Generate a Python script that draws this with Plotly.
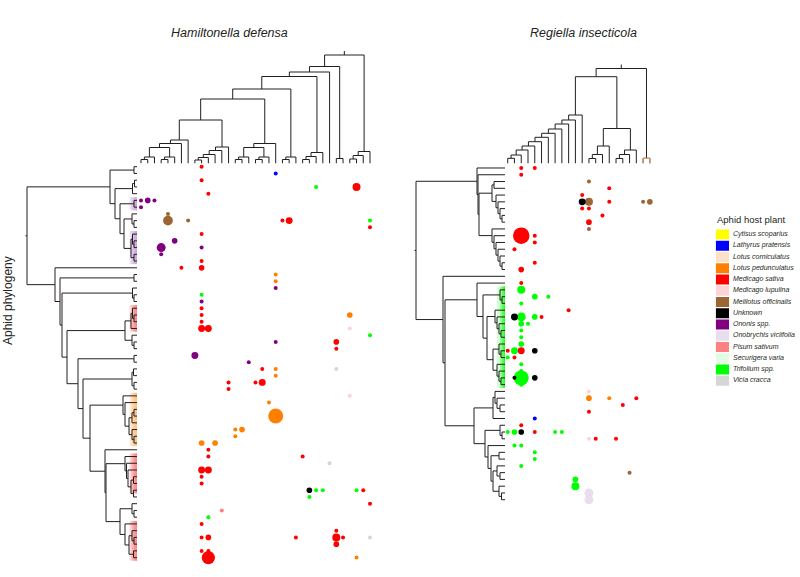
import math
import plotly.graph_objects as go

W, H = 800, 577
FONT = "Liberation Sans, Arial, sans-serif"
LINE = "#231f20"

# ---------------- legend / host plants ----------------
hosts = ["Cytisus scoparius", "Lathyrus pratensis", "Lotus corniculatus", "Lotus pedunculatus",
         "Medicago sativa", "Medicago lupulina", "Melilotus officinalis", "Unknown",
         "Ononis spp.", "Onobrychis viciifolia", "Pisum sativum", "Securigera varia",
         "Trifolium spp.", "Vicia cracca"]
host_codes = ["CS", "LP", "LC", "LPD", "MS", "ML", "MO", "UN", "ON", "OV", "PS", "SV", "TR", "VC"]
host_colors = ["#ffff00", "#0000ff", "#fde0c8", "#ff8000", "#ff0000", "#fbd4d8", "#9b6535", "#000000",
               "#800080", "#e8def0", "#ff8080", "#e2fbe2", "#00ff00", "#d6d6d6"]

# ---------------- Hamiltonella defensa matrix (row = aphid, col = symbiont) ----------------
ham_row = [0, 1, 2, 3, 3, 4, 5, 5, 5, 6, 7, 8, 8, 8, 8, 8, 9, 10, 11, 12, 12, 13, 14, 15, 15,
           16, 17, 18, 19, 20, 21, 22, 22, 23, 24, 24, 24, 25, 26, 26, 27, 28, 29, 30, 30, 30,
           31, 32, 32, 32, 33, 34, 35, 37, 39, 39, 40, 41, 41, 42, 43, 43, 44, 45, 45, 46, 47,
           48, 48, 48, 48, 48, 49, 50, 51, 52, 53, 54, 55, 55, 55, 55, 55, 55, 56, 57, 57, 58, 58]
ham_col = [9, 20, 9, 26, 32, 10, 0, 1, 2, 0, 4, 4, 7, 21, 22, 34, 34, 9, 5, 3, 9, 3, 9, 6, 9,
           20, 20, 20, 9, 9, 9, 9, 31, 9, 9, 10, 31, 34, 20, 29, 29, 8, 16, 18, 20, 29,
           20, 13, 17, 18, 13, 31, 19, 20, 14, 15, 14, 9, 11, 10, 10, 24, 28, 9, 10, 9, 9,
           25, 26, 27, 32, 33, 25, 34, 12, 10, 9, 29, 9, 10, 23, 29, 30, 34, 29, 9, 10, 10, 32]
ham_host = ["MS", "LP", "MS", "TR", "MS", "MS", "ON", "ON", "ON", "ON", "MO", "MO", "MO", "MS", "MS", "TR",
            "MS", "MS", "ON", "ON", "ON", "ON", "MS", "MS", "MS",
            "LPD", "LPD", "ON", "TR", "ON", "MS", "MS", "LPD", "MS", "MS", "MS", "ML", "TR", "ON", "MS",
            "MS", "ON", "ON", "MS", "LPD", "VC",
            "LPD", "MS", "MS", "MS", "MS", "ML", "LPD", "LPD", "LPD", "LPD", "LPD", "LPD", "LPD", "MS",
            "MS", "MS", "VC", "MS", "MS", "MS", "MS",
            "UN", "TR", "TR", "TR", "MS", "TR", "MS", "PS", "TR", "MS", "MS", "MS", "MS", "MS", "MS",
            "MS", "VC", "MS", "MS", "MS", "MS", "LPD"]
ham_n = [1, 1, 1, 1, 4, 1, 1, 2, 1, 1, 1, 6, 1, 1, 3, 1, 1, 1, 2, 5, 1, 1, 1, 1, 2,
         1, 1, 1, 1, 1, 1, 1, 2, 1, 3, 3, 1, 1, 1, 2, 1, 3, 1, 1, 1, 1,
         1, 1, 1, 3, 1, 1, 1, 14, 1, 2, 1, 2, 2, 1, 1, 1, 1, 3, 3, 1, 1,
         2, 1, 1, 1, 1, 1, 1, 1, 1, 1, 1, 1, 2, 1, 4, 1, 1, 2, 1, 1, 11, 1]

# ---------------- Regiella insecticola matrix ----------------
reg_row = [0, 0, 1, 2, 3, 4, 5, 5, 5, 5, 5, 6, 6, 7, 8, 9, 10, 10, 11, 12, 14, 15, 17, 18, 19, 19,
           20, 21, 22, 22, 22, 22, 23, 23, 24, 25, 26, 27, 27, 27, 27, 28, 28, 29, 30, 31, 31, 31,
           32, 33, 34, 34, 34, 35, 36, 37, 38, 39, 39, 39, 39, 39, 39, 40, 40, 40, 41, 41, 42, 43,
           44, 45, 46, 47, 48, 49]
reg_col = [2, 4, 2, 12, 15, 11, 11, 12, 15, 20, 21, 11, 12, 14, 12, 12, 2, 4, 4, 1, 4, 2, 2, 2, 4, 6,
           2, 9, 1, 2, 4, 5, 2, 3, 2, 2, 2, 0, 1, 2, 4, 0, 1, 2, 2, 1, 2, 4,
           2, 12, 12, 15, 19, 17, 12, 4, 2, 0, 1, 2, 4, 7, 8, 12, 13, 16, 1, 2, 4, 4,
           2, 18, 10, 10, 12, 12]
reg_host = ["MS", "MS", "MS", "MO", "MS", "MS", "UN", "MO", "MS", "MO", "MO", "MS", "MS", "MS", "MS", "MO",
            "MS", "MS", "MS", "MS", "MS", "MS", "MS", "TR", "TR", "TR",
            "TR", "MS", "UN", "TR", "TR", "MS", "TR", "TR", "TR", "TR", "TR", "MS", "TR", "MS", "UN",
            "TR", "MS", "TR", "TR", "UN", "TR", "UN",
            "TR", "ML", "LPD", "LPD", "MS", "MS", "MS", "LP", "MS", "TR", "TR", "UN", "MS", "TR", "TR",
            "ML", "MS", "MS", "TR", "TR", "TR", "TR",
            "TR", "MO", "TR", "TR", "OV", "OV"]
reg_n = [1, 1, 1, 1, 1, 1, 3, 4, 1, 1, 2, 1, 1, 1, 2, 1, 17, 1, 1, 1, 1, 2, 1, 4, 2, 1,
         1, 1, 3, 5, 2, 1, 2, 1, 1, 1, 2, 1, 3, 3, 2, 1, 1, 1, 1, 1, 14, 2,
         1, 1, 2, 1, 1, 1, 1, 1, 1, 1, 2, 2, 1, 1, 1, 1, 1, 1, 1, 1, 1, 1,
         1, 1, 2, 4, 5, 5]

# ---------------- trees: [node height, child, child, ...], leaves = row/column index ----------------
# Hamiltonella symbiont tree (leaves = matrix columns)
ham_tree = [108.5,
            [97, [91.5, [87, [74.5, [64.5,
                                     [43.5,
                                      [23.5, [20, [16, [6.5, [4, 0, 1], 2], [6.5, [4, 3, 4], 5]], 6], 7],
                                      [16.5, [13, [9, [6, [3.5, 8, 9], 10], 11], 12], 13]],
                                     [20, [16, [6.5, [4, 14, 15], 16], [6.5, [4, 17, 18], 19]], 20]],
                              [6.5, [4, 21, 22], 23]],
                       [11, [7, [4, 24, 25], 26], 27]],
                  28],
             [5, 29, 30]],
            [12, [8, [4.5, 31, 32], 33], 34]]

# Regiella symbiont tree (leaves = matrix columns)
reg_tree = [95,
            [86.8,
             [48.5, [43.5, [39.5, [34.5, [30.2, [26.2, [21.8, [17.5, [13.5, [8.5, [5.2, 0, 1], 2], 3], 4], 5],
                                               6], 7], 8], 9], 10], 11],
             [35, [17.5, [9, [5, 12, 13], 14], 15], [13.5, [9, [5, 16, 17], 18], 19]]],
            [5.2, 20, 21]]
reg_tan_clade = [5.2, 20, 21]

# Aphid tree, left panel (leaves = matrix rows)
aphid_left = [110,
              [27, [3, 0, 1],
               [22, [4.5, [2.5, 2, 3], 4],
                [17, [3, 5, 6],
                 [13, [5, 7, [3, 8, 9]], [6, [4.5, 10, [3, 11, 12]], [3, 13, 14]]]]]],
              [82, 15,
               [77, [3, 16, 17],
                [75, [4.5, 18, [3, 19, 20]],
                 [70, [12, [6, [4.5, 21, [3, 22, 23]], 24], [5, 25, [3, 26, 27]]],
                  [59, [3, 28, 29],
                   [54, [5, [3.5, 30, 31], [3, 32, 33]],
                    [47, [14, 34, [12, 35, [8, [5, [3, 36, 37], 38], [5, 39, [3, 40, 41]]]]],
                     [32, 42,
                      [31, [12, 43, [10.5, 44, [9, 45, [6, [3.5, 46, 47], [3.5, 48, 49]]]]],
                       [17, [5, 50, [3, 51, 52]],
                        [12, 53, [8, [5, 54, [3, 55, 56]], [3.5, 57, 58]]]]]]]]]]]]]]

# Aphid tree, right panel
aphid_right = [89,
               [28, 0, [27, 1,
                        [26, [13, [11, 2, 3], [9, 4, [7, 5, [5, 6, [3, 7, 8]]]]],
                         [13, 9, [11, 10, [9, 11, [7, 12, [5, 13, [3, 14, 15]]]]]]]]],
               [62, 16,
                [60,
                 [28, 17,
                  [22, [5, 18, [3, 19, 20]],
                   [18, [10, 21, [8, 22, [6, 23, [4, 24, 25]]]],
                    [12, [6, 26, [4, 27, 28]], [8, 29, [6, 30, [4, 31, 32]]]]]]],
                 [31, [12, [10, 33, [8, 34, [5, 35, 36]]], 37],
                  [20, [5, 38, [3, 39, 40]],
                   [17, 41, [14, [6, 42, 43], [12, [8, 44, [5, 45, 46]], [6, 47, [3.5, 48, 49]]]]]]]]]]

# highlighted clades on aphid trees: (first row, last row, colour)
left_boxes = [(5, 6, "#c7a3db"), (10, 14, "#c7a3db"), (21, 24, "#f77f7f"),
              (34, 41, "#fbbf7c"), (43, 48, "#f77f7f"), (53, 58, "#f77f7f")]
right_boxes = [(18, 32, "#1aff1a")]

titles = ["Hamiltonella defensa", "Regiella insecticola"]


# ---------------- helpers ----------------
def tree_segments(node, segs):
    if isinstance(node, int):
        return float(node), 0.0
    h = node[0]
    pos = [tree_segments(k, segs) for k in node[1:]]
    for p, hk in pos:
        segs.append((p, h, p, hk))
    ps = [p for p, _ in pos]
    segs.append((min(ps), h, max(ps), h))
    return (pos[0][0] + pos[-1][0]) / 2.0, h


def tree_xy(tree, horizontal, stub=0.0):
    segs = []
    rp, rh = tree_segments(tree, segs)
    if stub:
        segs.append((rp, rh, rp, rh + stub))
    a, b = [], []
    for p0, h0, p1, h1 in segs:
        if horizontal:      # height along x, position along y
            a += [h0, h1, None]
            b += [p0, p1, None]
        else:
            a += [p0, p1, None]
            b += [h0, h1, None]
    return a, b


def xdom(a, b):
    return [a / W, b / W]


def ydom(top, bottom):
    return [1 - bottom / H, 1 - top / H]


def psize(n):
    return 4.0 * math.sqrt(n)


fig = go.Figure()

# clade highlight boxes (gradient: stronger towards the tips)
shapes = []
for r0, r1, col in left_boxes:
    for h0, a in [(7.5, 0.3), (5.5, 0.4), (3.5, 0.5), (1.5, 0.6)]:
        shapes.append(dict(type="rect", xref="x2", yref="y", x0=h0, x1=-1.3, y0=r0 - 0.45, y1=r1 + 0.45,
                           fillcolor=col, opacity=a, line=dict(width=0), layer="below"))
for r0, r1, col in right_boxes:
    for h0, a in [(8, 0.2), (5, 0.35), (3, 0.5), (1.2, 0.7)]:
        shapes.append(dict(type="rect", xref="x4", yref="y3", x0=h0, x1=-1.8, y0=r0 - 0.5, y1=r1 + 0.5,
                           fillcolor=col, opacity=a, line=dict(width=0), layer="below"))

# trees
lx, ly = tree_xy(aphid_left, True, stub=1.5)
fig.add_trace(go.Scatter(x=lx, y=ly, xaxis="x2", yaxis="y", mode="lines",
                         line=dict(color=LINE, width=1), hoverinfo="skip"))
rx, ry = tree_xy(aphid_right, True, stub=1.5)
fig.add_trace(go.Scatter(x=rx, y=ry, xaxis="x4", yaxis="y3", mode="lines",
                         line=dict(color=LINE, width=1), hoverinfo="skip"))
hx, hy = tree_xy(ham_tree, False, stub=4)
fig.add_trace(go.Scatter(x=hx, y=hy, xaxis="x", yaxis="y2", mode="lines",
                         line=dict(color=LINE, width=1), hoverinfo="skip"))
gx, gy = tree_xy(reg_tree, False, stub=4)
fig.add_trace(go.Scatter(x=gx, y=gy, xaxis="x3", yaxis="y4", mode="lines",
                         line=dict(color=LINE, width=1), hoverinfo="skip"))
tx, ty = tree_xy(reg_tan_clade, False)
fig.add_trace(go.Scatter(x=tx, y=ty, xaxis="x3", yaxis="y4", mode="lines",
                         line=dict(color="#d9a170", width=1.2), hoverinfo="skip"))


# matrices
def add_points(rows, cols, hs, ns, xa, ya):
    order = sorted(range(len(rows)), key=lambda i: -ns[i])
    fig.add_trace(go.Scatter(
        x=[cols[i] for i in order], y=[rows[i] for i in order], xaxis=xa, yaxis=ya, mode="markers",
        marker=dict(size=[psize(ns[i]) for i in order],
                    color=[host_colors[host_codes.index(hs[i])] for i in order],
                    line=dict(width=0), opacity=1),
        hoverinfo="skip", cliponaxis=False))


add_points(ham_row, ham_col, ham_host, ham_n, "x", "y")
add_points(reg_row, reg_col, reg_host, reg_n, "x3", "y3")

# legend
leg_idx = list(range(len(hosts)))
fig.add_trace(go.Bar(x=[1] * len(hosts), y=leg_idx, base=0, orientation="h", width=0.9,
                     marker=dict(color=host_colors, line=dict(width=0)),
                     xaxis="x5", yaxis="y5", hoverinfo="skip"))
fig.add_trace(go.Scatter(x=[1.3] * len(hosts), y=leg_idx, mode="text",
                         text=["<i>%s</i>" % h for h in hosts], textposition="middle right",
                         textfont=dict(family=FONT, size=7, color=LINE),
                         xaxis="x5", yaxis="y5", hoverinfo="skip", cliponaxis=False))

hidden = dict(visible=False, fixedrange=True)


def label(text, x, y, size, angle=0):
    return dict(text=text, x=x / W, y=1 - y / H, xref="paper", yref="paper", xanchor="center",
                yanchor="middle", textangle=angle, showarrow=False,
                font=dict(size=size, family=FONT, color=LINE))


fig.update_layout(
    width=W, height=H, margin=dict(l=0, r=0, t=0, b=0),
    paper_bgcolor="white", plot_bgcolor="white", showlegend=False,
    font=dict(family=FONT, color=LINE),
    xaxis=dict(domain=xdom(141 - 3.37, 141 + 6.735 * 34.5), range=[-0.5, 34.5], anchor="y", **hidden),
    yaxis=dict(domain=ydom(166.7 - 3.37, 166.7 + 6.74 * 58.5), range=[58.5, -0.5], anchor="x", **hidden),
    xaxis2=dict(domain=xdom(17, 137), range=[120, 0], anchor="y", **hidden),
    yaxis2=dict(domain=ydom(43.5, 163.5), range=[0, 120], anchor="x", **hidden),
    xaxis3=dict(domain=xdom(507.7 - 3.385, 507.7 + 6.77 * 21.5), range=[-0.5, 21.5], anchor="y3", **hidden),
    yaxis3=dict(domain=ydom(168 - 3.385, 168 + 6.77 * 49.5), range=[49.5, -0.5], anchor="x3", **hidden),
    xaxis4=dict(domain=xdom(395, 505), range=[110, 0], anchor="y3", **hidden),
    yaxis4=dict(domain=ydom(43.5, 163.5), range=[0, 120], anchor="x3", **hidden),
    xaxis5=dict(domain=[715.7 / W, 1.0], range=[0, (W - 715.7) / 13.3], anchor="y5", **hidden),
    yaxis5=dict(domain=ydom(234.5 - 5.63, 234.5 + 11.25 * 13.5), range=[13.5, -0.5], anchor="x5", **hidden),
    shapes=shapes,
    annotations=[
        label("<i>%s</i>" % titles[0], 229, 33, 12.5),
        label("<i>%s</i>" % titles[1], 583, 33, 12.5),
        label("Aphid phylogeny", 8, 301, 12, -90),
        label("Aphid host plant", 751, 219, 9.5),
    ],
)

fig.write_html("out.html", config={"displayModeBar": False},
               post_script="document.body.style.margin='0';document.body.style.overflow='hidden';")
